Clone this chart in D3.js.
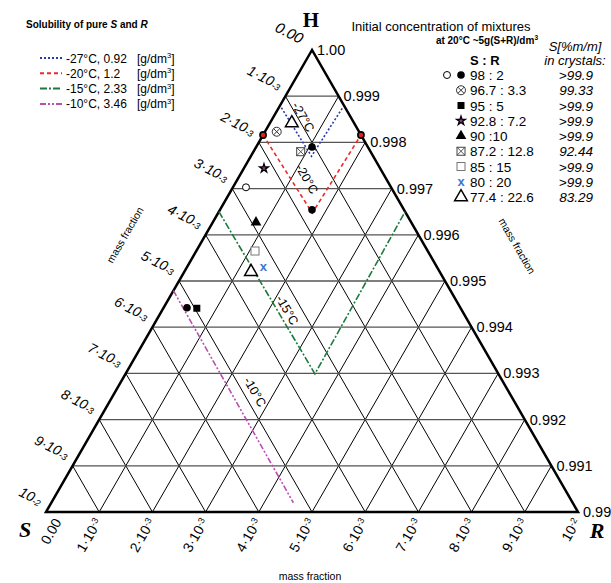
<!DOCTYPE html>
<html>
<head>
<meta charset="utf-8">
<script src="https://cdn.jsdelivr.net/npm/d3@7/dist/d3.min.js"></script>
<style>
  body { margin: 0; background: #fff; }
  svg { display: block; font-family: "Liberation Sans", Arial, sans-serif; }
</style>
</head>
<body>
<div id="chart"></div>
<script>
// Ternary corner of H-S-R, all s and r values in units of 1e-3 mass fraction
const divisions = d3.range(0, 11);
const leftTickBase = ["0.00", "1·10", "2·10", "3·10", "4·10", "5·10", "6·10", "7·10", "8·10", "9·10", "10"];
const leftTickExp = ["", "-3", "-3", "-3", "-3", "-3", "-3", "-3", "-3", "-3", "-2"];
const rightTickLabels = ["1.00", "0.999", "0.998", "0.997", "0.996", "0.995", "0.994", "0.993", "0.992", "0.991", "0.99"];

// solubility of pure S and R (lines)
const solTemps = ["-27°C", "-20°C", "-15°C", "-10°C"];
const solValues = ["0.92", "1.2", "2.33", "3.46"];
const solColors = ["#2a3aa8", "#f02828", "#1c7a3c", "#b850b0"];
const solDash = ["2,2", "4,3", "7,2,2,2", "6,2,2,2,2,2"];
const solPaths = [
  [[1.20, 0.05], [1.16, 1.14], [0.05, 1.20]],
  [[1.84, 0], [1.76, 1.77], [0, 1.84]],
  [[3.50, 0], [3.45, 3.56], [0, 3.50]],
  [[5.21, 0], [5.25, 4.55]],
];
const solLabelPos = [[0.89, 0.56], [1.49, 1.30], [3.28, 2.35], [4.77, 2.63]];

// initial mixtures (markers in the diagram)
const pointS = [2.727, 5.14, 1.548, 4.96, 2.183, 2.917, 1.313, 3.247, 3.26, 1.17, 3.546, 1.05, 1.73, 1.84, 0];
const pointR = [0.245, 0.44, 0.221, 0.63, 0.378, 0.812, 0.888, 1.104, 1.43, 0.41, 1.253, 1.05, 1.73, 0, 1.84];
const pointShape = ["openCircle", "dot", "otimes", "square", "star", "triangle", "boxtimes", "openSquare",
  "cross", "openTriangle", "openTriangle", "dot", "dot", "redDot", "redDot"];

// legend of mixtures
const mixRatios = ["98 : 2", "96.7 : 3.3", "95 : 5", "92.8 : 7.2", "90 :10", "87.2 : 12.8", "85 : 15", "80 : 20", "77.4 : 22.6"];
const mixPurity = [">99.9", "99.33", ">99.9", ">99.9", ">99.9", "92.44", ">99.9", ">99.9", "83.29"];
const mixShapes = [["openCircle", "dot"], ["otimes"], ["square"], ["star"], ["triangle"], ["boxtimes"], ["openSquare"], ["cross"], ["openTriangle"]];

const W = 611, H = 583;
const svg = d3.select("#chart").append("svg").attr("width", W).attr("height", H);

// Scales: y from s + r (level), x from r - s
const levelScale = d3.scaleLinear().domain([0, 10]).range([50, 512]);
const halfScale = d3.scaleLinear().domain([-10, 10]).range([46, 578]);
function pos(s, r) {
  return [halfScale(r - s), levelScale(s + r)];
}
const line = d3.line().x(d => pos(d[0], d[1])[0]).y(d => pos(d[0], d[1])[1]);

// Grid
const grid = svg.append("g");
divisions.slice(1, 10).forEach(function(i) {
  grid.append("path").attr("d", line([[i, 0], [0, i]]))
    .attr("stroke", "#555").attr("stroke-width", 1.3).attr("fill", "none");
  grid.append("path").attr("d", line([[i, 0], [i, 10 - i]]))
    .attr("stroke", "#000").attr("stroke-width", 1).attr("fill", "none");
  grid.append("path").attr("d", line([[0, i], [10 - i, i]]))
    .attr("stroke", "#000").attr("stroke-width", 1).attr("fill", "none");
});
svg.append("path").attr("d", line([[0, 0], [10, 0], [0, 10], [0, 0]]) + "Z")
  .attr("stroke", "#000").attr("stroke-width", 2.5).attr("fill", "none")
  .attr("stroke-linejoin", "miter");

// Solubility lines
solPaths.forEach(function(p, i) {
  svg.append("path").attr("d", line(p))
    .attr("fill", "none").attr("stroke", solColors[i])
    .attr("stroke-width", 1.6).attr("stroke-dasharray", solDash[i]);
  const c = pos(solLabelPos[i][0], solLabelPos[i][1]);
  svg.append("text").attr("transform", "translate(" + c[0] + "," + c[1] + ") rotate(60)")
    .attr("text-anchor", "middle").attr("dy", "0.35em")
    .attr("font-size", 12.5).text(solTemps[i]);
});

// Markers
function marker(g, shape, x, y) {
  const m = g.append("g").attr("transform", "translate(" + x + "," + y + ")");
  if (shape === "openCircle") {
    m.append("circle").attr("r", 3.5).attr("fill", "#fff").attr("stroke", "#000").attr("stroke-width", 1);
  } else if (shape === "dot") {
    m.append("circle").attr("r", 3.8).attr("fill", "#000");
  } else if (shape === "redDot") {
    m.append("circle").attr("r", 3.1).attr("fill", "#e02020").attr("stroke", "#000").attr("stroke-width", 1.6);
  } else if (shape === "otimes") {
    m.append("circle").attr("r", 4.5).attr("fill", "#fff").attr("stroke", "#333").attr("stroke-width", 1);
    m.append("path").attr("d", "M-3.1,-3.1L3.1,3.1M-3.1,3.1L3.1,-3.1").attr("stroke", "#333").attr("stroke-width", 1);
  } else if (shape === "square") {
    m.append("rect").attr("x", -3.5).attr("y", -3.5).attr("width", 7).attr("height", 7).attr("fill", "#000");
  } else if (shape === "star") {
    m.append("path").attr("d", d3.symbol(d3.symbolStar, 24)())
      .attr("fill", "#8a3a90").attr("stroke", "#000").attr("stroke-width", 1.3);
  } else if (shape === "triangle") {
    m.append("path").attr("d", d3.symbol(d3.symbolTriangle, 50)()).attr("fill", "#000");
  } else if (shape === "boxtimes") {
    m.append("rect").attr("x", -4).attr("y", -4).attr("width", 8).attr("height", 8)
      .attr("fill", "#fff").attr("stroke", "#444").attr("stroke-width", 1);
    m.append("path").attr("d", "M-4,-4L4,4M-4,4L4,-4").attr("stroke", "#444").attr("stroke-width", 0.9);
  } else if (shape === "openSquare") {
    m.append("rect").attr("x", -4).attr("y", -4).attr("width", 8).attr("height", 8)
      .attr("fill", "#fff").attr("stroke", "#777").attr("stroke-width", 1);
  } else if (shape === "cross") {
    m.append("text").attr("text-anchor", "middle").attr("dy", "0.32em")
      .attr("font-size", 13).attr("font-weight", "bold").attr("fill", "#3a78d0").text("x");
  } else if (shape === "openTriangle") {
    m.append("path").attr("d", d3.symbol(d3.symbolTriangle, 70)())
      .attr("fill", "#fff").attr("stroke", "#000").attr("stroke-width", 1.5);
  }
}
const pts = svg.append("g");
pointShape.forEach(function(sh, i) {
  const p = pos(pointS[i], pointR[i]);
  marker(pts, sh, p[0], p[1]);
});

// Left axis tick labels
divisions.forEach(function(i) {
  const p = pos(i, 0);
  const dx = i === 0 ? -12 : -7;
  const t = svg.append("text")
    .attr("transform", "translate(" + (p[0] + dx) + "," + (p[1] - 6) + ") rotate(27)")
    .attr("text-anchor", "end").attr("font-size", i === 0 ? 15 : 14).attr("font-style", "italic");
  t.append("tspan").text(leftTickBase[i]);
  if (leftTickExp[i]) t.append("tspan").attr("font-size", 9).attr("dy", 1).text(leftTickExp[i]);
});
// Bottom axis tick labels
divisions.forEach(function(i) {
  const p = pos(10 - i, i);
  const dx = i === 0 ? 16 : 3;
  const t = svg.append("text")
    .attr("transform", "translate(" + (p[0] + dx) + "," + (p[1] + 10) + ") rotate(-60)")
    .attr("text-anchor", "end").attr("font-size", 14);
  t.append("tspan").text(leftTickBase[i]);
  if (leftTickExp[i]) t.append("tspan").attr("font-size", 9).attr("dy", -4).text(leftTickExp[i]);
});
// Right axis tick labels
divisions.forEach(function(i) {
  const p = pos(0, i);
  svg.append("text").attr("x", p[0] + 5).attr("y", p[1] + 5)
    .attr("font-size", 14.5).text(rightTickLabels[i]);
});

// Corner labels
svg.append("text").attr("x", 311).attr("y", 27).attr("text-anchor", "middle")
  .attr("font-family", "Liberation Serif, serif").attr("font-weight", "bold").attr("font-size", 21).text("H");
svg.append("text").attr("x", 25).attr("y", 537).attr("text-anchor", "middle")
  .attr("font-family", "Liberation Serif, serif").attr("font-weight", "bold").attr("font-style", "italic")
  .attr("font-size", 22).text("S");
svg.append("text").attr("x", 597).attr("y", 538).attr("text-anchor", "middle")
  .attr("font-family", "Liberation Serif, serif").attr("font-weight", "bold").attr("font-style", "italic")
  .attr("font-size", 22).text("R");

// "mass fraction" axis titles
svg.append("text").attr("x", 310).attr("y", 580).attr("text-anchor", "middle").attr("font-size", 10.5).text("mass fraction");
svg.append("text").attr("transform", "translate(125,235) rotate(-60)").attr("text-anchor", "middle")
  .attr("dy", "0.35em").attr("font-size", 10.5).text("mass fraction");
svg.append("text").attr("transform", "translate(517,246) rotate(60)").attr("text-anchor", "middle")
  .attr("dy", "0.35em").attr("font-size", 10.5).text("mass fraction");

// Left legend: solubility of pure S and R
const legL = svg.append("g");
const tl = legL.append("text").attr("x", 26).attr("y", 28).attr("font-size", 10).attr("font-weight", "bold");
tl.append("tspan").text("Solubility of pure ");
tl.append("tspan").attr("font-style", "italic").text("S");
tl.append("tspan").text(" and ");
tl.append("tspan").attr("font-style", "italic").text("R");
solTemps.forEach(function(temp, i) {
  const y = 58 + i * 15.3;
  legL.append("line").attr("x1", 40).attr("x2", 62).attr("y1", y).attr("y2", y)
    .attr("stroke", solColors[i]).attr("stroke-width", 2).attr("stroke-dasharray", solDash[i]);
  legL.append("text").attr("x", 66).attr("y", y + 4.5).attr("font-size", 12).text(temp + ", " + solValues[i]);
  const u = legL.append("text").attr("x", 137).attr("y", y + 4.5).attr("font-size", 12);
  u.append("tspan").text("[g/dm");
  u.append("tspan").attr("font-size", 7.5).attr("dy", -4.5).text("3");
  u.append("tspan").attr("dy", 4.5).text("]");
});

// Right legend: initial mixtures
const legR = svg.append("g");
legR.append("text").attr("x", 441).attr("y", 31).attr("text-anchor", "middle").attr("font-size", 13)
  .text("Initial concentration of mixtures");
const sub = legR.append("text").attr("x", 538).attr("y", 44).attr("text-anchor", "end")
  .attr("font-size", 10).attr("font-weight", "bold");
sub.append("tspan").text("at 20°C ~5g(S+R)/dm");
sub.append("tspan").attr("font-size", 6.5).attr("dy", -4).text("3");
legR.append("text").attr("x", 575).attr("y", 51).attr("text-anchor", "middle")
  .attr("font-size", 13).attr("font-style", "italic").text("S[%m/m]");
legR.append("text").attr("x", 575).attr("y", 65).attr("text-anchor", "middle")
  .attr("font-size", 13).attr("font-style", "italic").text("in crystals:");
legR.append("text").attr("x", 470).attr("y", 65).attr("font-size", 13).attr("font-weight", "bold").text("S : R");
mixRatios.forEach(function(rt, i) {
  const y = 75 + i * 15.25;
  const shapes = mixShapes[i];
  if (shapes.length === 2) {
    marker(legR, shapes[0], 447, y);
    marker(legR, shapes[1], 461, y);
  } else {
    marker(legR, shapes[0], 461, y);
  }
  legR.append("text").attr("x", 470).attr("y", y + 5).attr("font-size", 13.5).text(rt);
  legR.append("text").attr("x", 593).attr("y", y + 5).attr("text-anchor", "end")
    .attr("font-size", 13.5).attr("font-style", "italic").text(mixPurity[i]);
});
</script>
</body>
</html>
